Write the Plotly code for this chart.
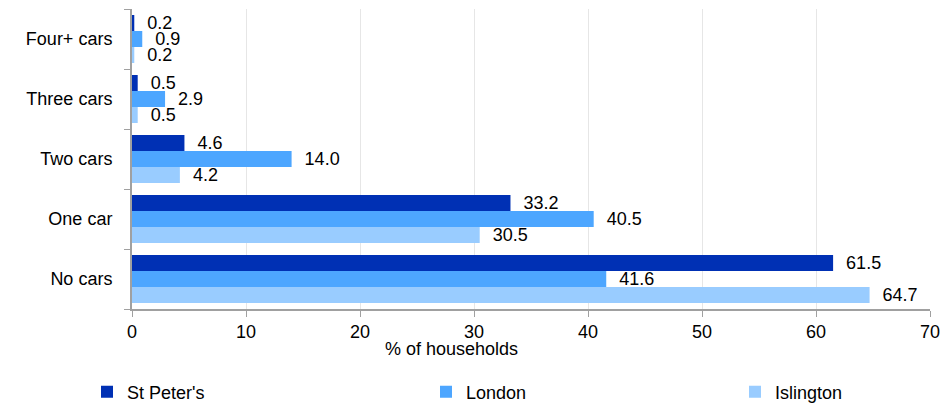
import plotly.graph_objects as go

categories = ["No cars", "One car", "Two cars", "Three cars", "Four+ cars"]
st_peters = [61.5, 33.2, 4.6, 0.5, 0.2]
london = [41.6, 40.5, 14.0, 2.9, 0.9]
islington = [64.7, 30.5, 4.2, 0.5, 0.2]
x_ticks = [0, 10, 20, 30, 40, 50, 60, 70]

series = [
    ("Islington", islington, "#99CCFF", "legend3"),
    ("London", london, "#4DA6FF", "legend2"),
    ("St Peter's", st_peters, "#0030B4", "legend"),
]

FONT = "Liberation Sans, Arial, sans-serif"
FS = 18

fig = go.Figure()
for name, vals, col, lg in series:
    fig.add_trace(go.Bar(
        y=categories, x=vals, name=name, orientation="h",
        marker=dict(color=col, line=dict(width=0)),
        text=vals, texttemplate="\u00a0\u00a0%{x:.1f}", textposition="outside",
        textfont=dict(size=FS, color="#000000", family=FONT),
        constraintext="none", showlegend=True,
        cliponaxis=False, legend=lg,
    ))

W, H = 951, 404
L, R, T, B = 132, 21, 9, 95
pw = W - L - R
ph = H - T - B

def cx(x):
    return x / W

def cy(y):
    return 1 - y / H

leg_common = dict(orientation="h", yanchor="middle", xanchor="left",
                  xref="container", yref="container",
                  font=dict(size=FS, family=FONT, color="#000000"),
                  bgcolor="rgba(0,0,0,0)", itemwidth=30)

fig.update_layout(
    width=W, height=H,
    margin=dict(l=L, r=R, t=T, b=B, autoexpand=False),
    barmode="group", bargap=0.2, bargroupgap=0,
    plot_bgcolor="white", paper_bgcolor="white",
    font=dict(family=FONT, size=FS, color="#000000"),
    showlegend=True,
    legend=dict(x=cx(87), y=cy(392), **leg_common),
    legend2=dict(x=cx(426), y=cy(392), **leg_common),
    legend3=dict(x=cx(735), y=cy(392), **leg_common),
    xaxis=dict(range=[0, 70], tickvals=x_ticks, showgrid=True, gridcolor="#E6E6E6", gridwidth=1,
               showline=True, linecolor="#A0A0A0", linewidth=1.5,
               ticks="outside", ticklen=6, tickcolor="#A0A0A0",
               tickfont=dict(size=FS, family=FONT), zeroline=False),
    yaxis=dict(categoryorder="array", categoryarray=categories,
               showline=True, linecolor="#A0A0A0", linewidth=2,
               ticks="outside", ticklen=6, tickcolor="#A0A0A0", tickson="boundaries",
               ticklabelstandoff=14,
               tickfont=dict(size=FS, family=FONT), showgrid=False),
    annotations=[dict(text="% of households", xref="paper", yref="paper",
                      x=(451 - L) / pw, y=(H - B - 349) / ph, xanchor="center", yanchor="middle",
                      showarrow=False, font=dict(size=FS, family=FONT))],
)

fig.write_html("out.html", config={"displayModeBar": False},
               post_script="document.body.style.margin='0';document.body.style.padding='0';")
